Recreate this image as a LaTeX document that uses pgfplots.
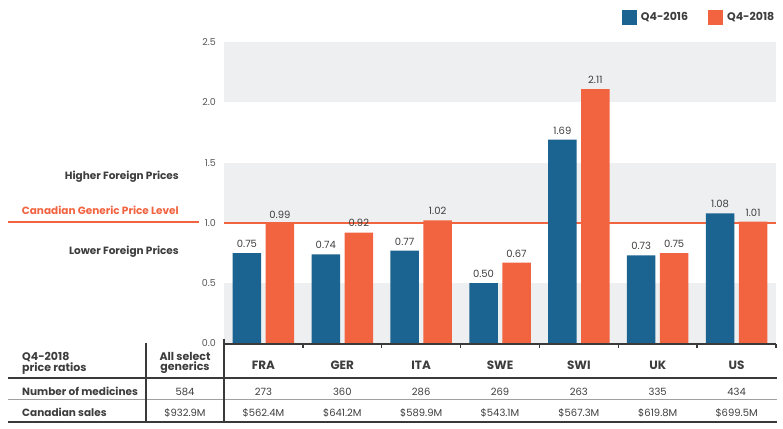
\documentclass[border=0pt]{standalone}
\usepackage{fontspec}
\setmainfont{Poppins}
\usepackage{pgfplots}
\pgfplotsset{compat=1.18}
\definecolor{cblue}{HTML}{1B6491}
\definecolor{corange}{HTML}{F26340}
\definecolor{band}{HTML}{EEEFF1}
\definecolor{txt}{HTML}{3D3D3D}
\definecolor{tickc}{HTML}{555555}
\definecolor{rulec}{HTML}{3A3A3A}
\definecolor{thinc}{HTML}{A0A0A0}
\newcommand\fs[1]{\fontsize{#1}{#1}\selectfont}
\begin{document}
\begin{tikzpicture}[x=1pt,y=1pt]
\path[use as bounding box] (0,0) rectangle (783,428);
\begin{axis}[
  at={(224pt,84.5pt)}, anchor=south west,
  scale only axis, width=552pt, height=301.5pt,
  xmin=-0.5, xmax=6.5, ymin=0, ymax=2.5,
  clip=false, axis on top,
  /pgf/number format/assume math mode=true,
  axis x line*=bottom, axis y line*=left,
  y axis line style={draw=none},
  x axis line style={draw=rulec, line width=2pt, -},
  xtick={0,...,6},
  xticklabels={FRA,GER,ITA,SWE,SWI,UK,US},
  xticklabel style={font=\fs{12}\bfseries, text=txt, anchor=base, yshift=-25.8pt, inner sep=0pt},
  minor xtick={-0.5,0.5,...,6.5},
  tick align=inside,
  major tick length=0pt, minor tick length=4pt,
  minor tick style={draw=rulec, line width=1.3pt},
  ytick={0,0.5,1,1.5,2,2.5},
  yticklabel style={/pgf/number format/.cd, fixed, fixed zerofill, precision=1, /tikz/.cd,
     font=\fs{9.5}, text=tickc, anchor=east, inner sep=0pt, xshift=-8pt},
  ybar, bar width=28.5pt,
  nodes near coords,
  every node near coord/.append style={font=\fs{10}, text=txt, yshift=2pt,
     /pgf/number format/fixed, /pgf/number format/fixed zerofill, /pgf/number format/precision=2},
  legend style={at={(axis description cs:0.721,1.106)}, anchor=north west, draw=none, fill=none,
     inner sep=0pt, outer sep=0pt, font=\fs{11}\bfseries, text=txt,
     legend columns=2, nodes={inner sep=0pt},
     /tikz/every even column/.append style={column sep=20pt}},
]
\fill[band] (axis cs:-0.5,0) rectangle (axis cs:6.5,0.5);
\fill[band] (axis cs:-0.5,1) rectangle (axis cs:6.5,1.5);
\fill[band] (axis cs:-0.5,2) rectangle (axis cs:6.5,2.5);
\draw[corange, line width=2pt] (axis cs:-0.5,1) -- (axis cs:6.5,1);
\addplot[fill=cblue, draw=none, bar shift=-16.5pt,
  legend image code/.code={\fill[cblue] (0pt,-7.5pt) rectangle (15pt,7.5pt); \path (19pt,0pt);}]
  coordinates {(0,0.75) (1,0.74) (2,0.77) (3,0.50) (4,1.69) (5,0.73) (6,1.08)};
\addlegendentry{Q4-2016}
\addplot[fill=corange, draw=none, bar shift=16.5pt,
  legend image code/.code={\fill[corange] (0pt,-7.5pt) rectangle (15pt,7.5pt); \path (19pt,0pt);}]
  coordinates {(0,0.99) (1,0.92) (2,1.02) (3,0.67) (4,2.11) (5,0.75) (6,1.01)};
\addlegendentry{Q4-2018}
\end{axis}
% left annotations
\node[anchor=east, inner sep=0pt, font=\fs{10.5}\bfseries, text=txt] at (179,251) {Higher Foreign Prices};
\node[anchor=east, inner sep=0pt, font=\fs{10.5}\bfseries, text=corange] at (179,218) {Canadian Generic Price Level};
\node[anchor=east, inner sep=0pt, font=\fs{10.5}\bfseries, text=txt] at (179,176) {Lower Foreign Prices};
\draw[corange, line width=2pt] (8,205.5) -- (199,205.5);
% table
\draw[rulec, line width=2pt] (8,50.5) -- (777,50.5);
\draw[thinc, line width=1pt] (8,29) -- (777,29);
\draw[rulec, line width=2pt] (8,6) -- (777,6);
\draw[rulec, line width=2pt] (146,85) -- (146,6);
\draw[rulec, line width=2pt] (224,89) -- (224,6);
\node[anchor=base west, inner sep=0pt, font=\fs{11}\bfseries, text=txt] at (22,67) {Q4-2018};
\node[anchor=base west, inner sep=0pt, font=\fs{11}\bfseries, text=txt] at (22,56.5) {price ratios};
\node[anchor=base, inner sep=0pt, font=\fs{11}\bfseries, text=txt] at (185,68) {All select};
\node[anchor=base, inner sep=0pt, font=\fs{11}\bfseries, text=txt] at (185,57.5) {generics};
\node[anchor=base west, inner sep=0pt, font=\fs{10.5}\bfseries, text=txt] at (22,33) {Number of medicines};
\node[anchor=base west, inner sep=0pt, font=\fs{10.5}\bfseries, text=txt] at (22,12) {Canadian sales};
\node[anchor=base, inner sep=0pt, font=\fs{10}, text=txt] at (185,33) {584};
\node[anchor=base, inner sep=0pt, font=\fs{10}, text=txt] at (185,12) {\$932.9M};
\foreach \v [count=\i from 0] in {273,360,286,269,263,335,434}
  \node[anchor=base, inner sep=0pt, font=\fs{10}, text=txt] at ({224+78.857*(\i+0.5)},33) {\v};
\foreach \v [count=\i from 0] in {562.4,641.2,589.9,543.1,567.3,619.8,699.5}
  \node[anchor=base, inner sep=0pt, font=\fs{10}, text=txt] at ({224+78.857*(\i+0.5)},12) {\$\v M};
\end{tikzpicture}
\end{document}
